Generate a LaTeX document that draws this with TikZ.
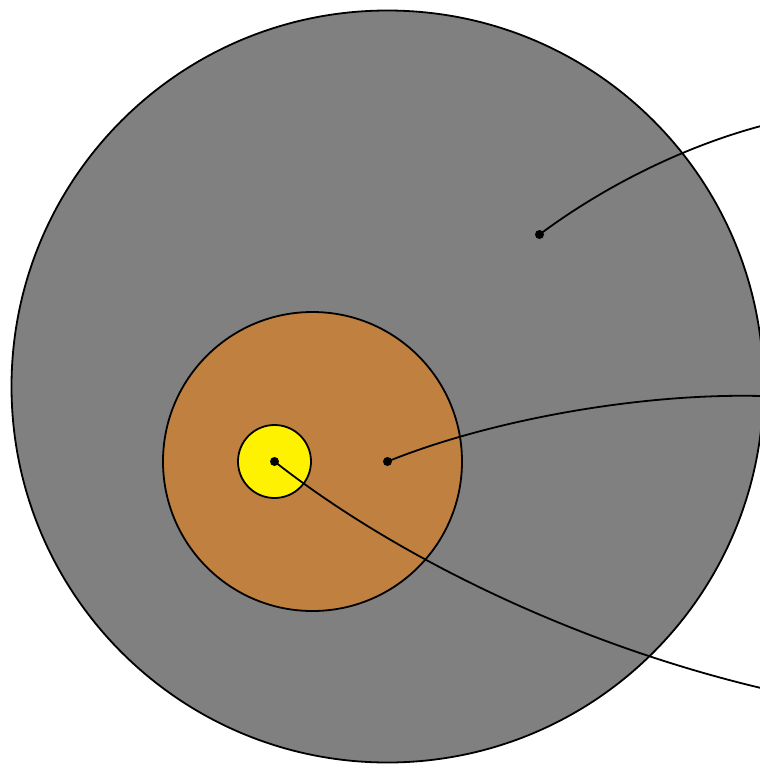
\documentclass[tikz,border=0pt]{standalone}
\definecolor{graybg}{RGB}{128,128,128}
\definecolor{orangec}{RGB}{192,128,64}
\definecolor{yellowc}{RGB}{255,242,0}
\begin{document}
\begin{tikzpicture}[x=1pt,y=-1pt,
  ring/.style={circle,draw=black,line width=1.8pt,inner sep=0pt},
  dotm/.style={circle,fill=black,inner sep=0pt,minimum size=9pt},
  leader/.style={line width=1.8pt}]
\useasboundingbox (0,0) rectangle (760,764);
\node[ring,fill=graybg,minimum size=752pt] (outer) at (387.5,386.5) {};
\node[ring,fill=orangec,minimum size=299pt] (mid) at (312.5,461.5) {};
\node[ring,fill=yellowc,minimum size=73pt] (inner) at (274.5,461.5) {};
\node[dotm] (d1) at (539.5,234.5) {};
\node[dotm] (d2) at (387.5,461.5) {};
\node[dotm] (d3) at (274.5,461.5) {};
\coordinate (e1) at (761,126);
\coordinate (e2) at (761,396);
\coordinate (e3) at (761,688);
\draw[leader] (d1.center) .. controls (610,182) and (690,145) .. (e1);
\draw[leader] (d2.center) .. controls (490,420) and (640,393) .. (e2);
\draw[leader] (d3.center) .. controls (400,560) and (580,645) .. (e3);
\end{tikzpicture}
\end{document}
